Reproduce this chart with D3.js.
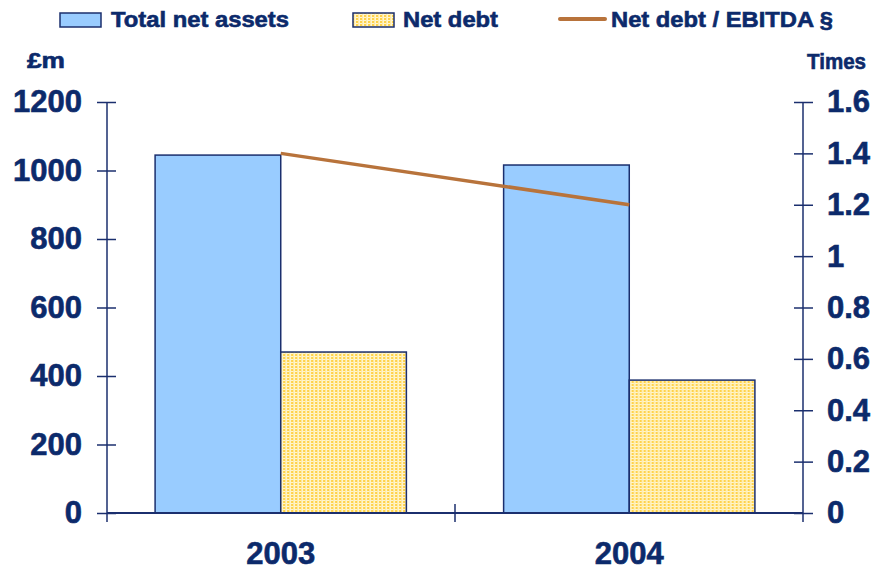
<!DOCTYPE html>
<html>
<head>
<meta charset="utf-8">
<script src="https://cdn.jsdelivr.net/npm/d3@7"></script>
<style>
  html, body { margin: 0; padding: 0; background: #fff; }
  svg { display: block; font-family: "Liberation Sans", Arial, Helvetica, sans-serif; font-weight: bold; }
  svg text { stroke: #0c2a6b; stroke-width: 0.6px; }
</style>
</head>
<body>
<svg id="chart" width="879" height="571"></svg>
<script>
// Chart data
const years = ["2003", "2004"];
const totalNetAssets = [1045, 1016];   // £m
const netDebt = [470, 388];            // £m
const debtToEbitda = [1.4, 1.2];       // times
const leftTicks = [0, 200, 400, 600, 800, 1000, 1200];
const rightTicks = [0, 0.2, 0.4, 0.6, 0.8, 1, 1.2, 1.4, 1.6];
const seriesNames = ["Total net assets", "Net debt", "Net debt / EBITDA §"];

const navy = "#0c2a6b";
const axisCol = "#1b2f6e";
const blue = "#99ccff";
const lineCol = "#b8733b";

const svg = d3.select("#chart");
const defs = svg.append("defs");

// Dotted yellow fill for net debt
const pat = defs.append("pattern")
  .attr("id", "dots").attr("patternUnits", "userSpaceOnUse")
  .attr("width", 4).attr("height", 3);
pat.append("rect").attr("width", 4).attr("height", 3).attr("fill", "#fff5cc");
pat.append("rect").attr("x", 0).attr("y", 0).attr("width", 2).attr("height", 2).attr("fill", "#ffd24a");
pat.append("rect").attr("x", 2).attr("y", 0).attr("width", 1).attr("height", 3).attr("fill", "#ffeaa6");

const plotL = 107, plotR = 803, plotT = 102, plotB = 513;

const x0 = d3.scaleBand().domain(years).range([plotL, plotR])
  .paddingInner(0.279).paddingOuter(0.138);
const x1 = d3.scaleBand().domain(["assets", "debt"]).range([0, x0.bandwidth()]);
const yL = d3.scaleLinear().domain([0, 1200]).range([plotB, plotT]);
const yR = d3.scaleLinear().domain([0, 1.6]).range([plotB, plotT]);

// Bars
const groups = svg.append("g").selectAll("g").data(years).join("g")
  .attr("transform", d => `translate(${x0(d)},0)`);

groups.append("rect")
  .attr("x", x1("assets"))
  .attr("y", (d, i) => yL(totalNetAssets[i]))
  .attr("width", x1.bandwidth())
  .attr("height", (d, i) => yL(0) - yL(totalNetAssets[i]))
  .attr("fill", blue).attr("stroke", axisCol).attr("stroke-width", 1.5);

groups.append("rect")
  .attr("x", x1("debt"))
  .attr("y", (d, i) => yL(netDebt[i]))
  .attr("width", x1.bandwidth())
  .attr("height", (d, i) => yL(0) - yL(netDebt[i]))
  .attr("fill", "url(#dots)").attr("stroke", axisCol).attr("stroke-width", 1.5);

// Left axis
const gL = svg.append("g").attr("transform", `translate(${plotL},0)`)
  .call(d3.axisLeft(yL).tickValues(leftTicks).tickSize(0).tickPadding(25).tickFormat(d3.format("d")));
gL.select(".domain").remove();
gL.selectAll(".tick line").attr("x1", -10).attr("x2", 9).attr("stroke", axisCol).attr("stroke-width", 1.5);
gL.selectAll(".tick text").attr("fill", navy).style("font-size", "31px").style("font-weight", "bold")
  .style("font-family", "'Liberation Sans', Arial, sans-serif");
gL.append("line").attr("x1", 0).attr("x2", 0).attr("y1", plotT).attr("y2", plotB + 9)
  .attr("stroke", axisCol).attr("stroke-width", 1.5);

// Right axis
const gR = svg.append("g").attr("transform", `translate(${plotR},0)`)
  .call(d3.axisRight(yR).tickValues(rightTicks).tickSize(0).tickPadding(24).tickFormat(d => d3.format("~g")(d)));
gR.select(".domain").remove();
gR.selectAll(".tick line").attr("x1", -9).attr("x2", 10).attr("stroke", axisCol).attr("stroke-width", 1.5);
gR.selectAll(".tick text").attr("fill", navy).style("font-size", "31px").style("font-weight", "bold")
  .style("font-family", "'Liberation Sans', Arial, sans-serif");
gR.append("line").attr("x1", 0).attr("x2", 0).attr("y1", plotT).attr("y2", plotB + 9)
  .attr("stroke", axisCol).attr("stroke-width", 1.5);

// Category axis
const gB = svg.append("g").attr("transform", `translate(0,${plotB})`);
gB.append("line").attr("x1", plotL).attr("x2", plotR).attr("stroke", axisCol).attr("stroke-width", 2);
const bounds = years.slice(1).map(y => x0(y) - x0.step() * x0.paddingInner() / 2);
gB.selectAll("line.sep").data(bounds).join("line").attr("class", "sep")
  .attr("x1", d => d).attr("x2", d => d).attr("y1", -9).attr("y2", 9)
  .attr("stroke", axisCol).attr("stroke-width", 1.5);
gB.selectAll("text").data(years).join("text")
  .attr("x", d => x0(d) + x0.bandwidth() / 2).attr("y", 51)
  .attr("text-anchor", "middle").attr("fill", navy).style("font-size", "31px")
  .text(d => d);

// Ratio line
const line = d3.line()
  .x((d, i) => x0(years[i]) + x0.bandwidth() / 2)
  .y(d => yR(d));
svg.append("path").datum(debtToEbitda).attr("d", line)
  .attr("fill", "none").attr("stroke", lineCol).attr("stroke-width", 3.5);

// Unit labels
svg.append("text").attr("x", 27).attr("y", 68).attr("fill", navy).style("font-size", "22px")
  .attr("textLength", 38).attr("lengthAdjust", "spacingAndGlyphs").text("£m");
svg.append("text").attr("x", 807).attr("y", 69).attr("fill", navy).style("font-size", "22px")
  .attr("textLength", 59).attr("lengthAdjust", "spacingAndGlyphs").text("Times");

// Legend
const legend = svg.append("g");
legend.append("rect").attr("x", 60).attr("y", 13).attr("width", 41).attr("height", 14)
  .attr("fill", blue).attr("stroke", axisCol).attr("stroke-width", 1.5);
legend.append("rect").attr("x", 353).attr("y", 13).attr("width", 41).attr("height", 14)
  .attr("fill", "url(#dots)").attr("stroke", axisCol).attr("stroke-width", 1.5);
legend.append("line").attr("x1", 560).attr("x2", 605).attr("y1", 19).attr("y2", 19)
  .attr("stroke", lineCol).attr("stroke-width", 4).attr("stroke-linecap", "round");
const legendText = [
  { x: 111, w: 178 },
  { x: 403, w: 95 },
  { x: 611, w: 222 }
];
legend.selectAll("text").data(seriesNames).join("text")
  .attr("x", (d, i) => legendText[i].x).attr("y", 27)
  .attr("fill", navy).style("font-size", "22px")
  .attr("textLength", (d, i) => legendText[i].w).attr("lengthAdjust", "spacingAndGlyphs")
  .text(d => d);
</script>
</body>
</html>
